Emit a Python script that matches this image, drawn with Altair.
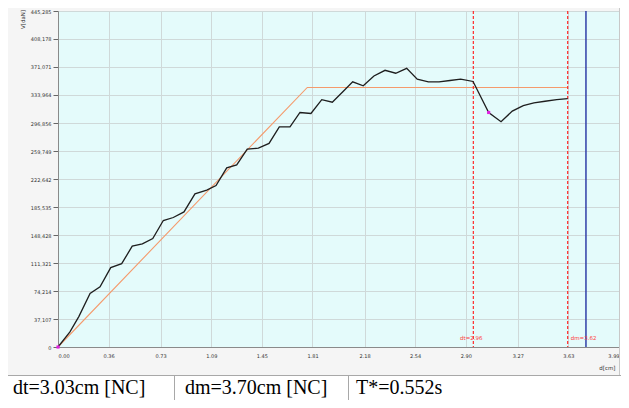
import altair as alt
import pandas as pd

# ---- data ----
d_cm = [0.000, 0.085, 0.149, 0.228, 0.299, 0.375, 0.453, 0.528, 0.600, 0.674,
        0.749, 0.820, 0.896, 0.974, 1.058, 1.124, 1.200, 1.271, 1.346, 1.425,
        1.501, 1.574, 1.650, 1.721, 1.799, 1.876, 1.951, 2.024, 2.096, 2.171,
        2.247, 2.326, 2.402, 2.480, 2.555, 2.634, 2.710, 2.788, 2.864, 2.952,
        3.063, 3.151, 3.231, 3.309, 3.385, 3.464, 3.547, 3.625]
v_dan = [0.0, 20.0, 40.6, 71.1, 79.9, 105.2, 110.4, 133.6, 136.6, 143.7,
         167.6, 171.6, 179.0, 203.0, 207.8, 213.9, 237.4, 241.4, 262.3, 263.6,
         269.8, 291.6, 291.6, 310.8, 309.5, 327.8, 324.4, 338.0, 351.4, 346.1,
         359.2, 366.7, 362.8, 369.3, 354.9, 351.4, 351.4, 353.2, 354.9, 351.9,
         310.8, 298.6, 312.6, 319.9, 323.5, 325.7, 327.8, 329.1]

bilinear_d = [0.0, 1.773, 3.625]
bilinear_v = [0.0, 344.0, 344.0]

marker_d = [0.0, 3.063]
marker_v = [0.0, 310.8]

dt_value = 2.954
dm_value = 3.625
blue_value = 3.755
dt_label = "dt=2.96"
dm_label = "dm=3.62"

x_ticks = [0.00, 0.36, 0.73, 1.09, 1.45, 1.81, 2.18, 2.54, 2.90, 3.27, 3.63, 3.99]
y_ticks = [0, 37.107, 74.214, 111.321, 148.428, 185.535, 222.642, 259.749,
           296.856, 333.964, 371.071, 408.178, 445.285]

table_texts = ["dt=3.03cm [NC]", "dm=3.70cm [NC]", "T*=0.552s"]

# ---- chart ----
W, H = 561, 336
xs = alt.Scale(domain=[0, 3.99], nice=False, zero=True)
ys = alt.Scale(domain=[0, 445.285], nice=False, zero=True)

curve_df = pd.DataFrame({"d": d_cm, "v": v_dan})
bil_df = pd.DataFrame({"d": bilinear_d, "v": bilinear_v})
mk_df = pd.DataFrame({"d": marker_d, "v": marker_v})

x_axis = alt.Axis(values=x_ticks, tickCount=30, format=".2f", grid=True, ticks=False,
                  labelOverlap=False, labelPadding=6, title="d[cm]", titleX=W - 4, titleY=20,
                  titleAlign="right", titleAnchor="end", titleBaseline="middle",
                  titleFontSize=5.5, titleFontWeight="normal", titleColor="#333")
y_axis = alt.Axis(values=y_ticks, tickCount=30, grid=True, tickSize=5, tickColor="#666",
                  labelPadding=2, labelOverlap=False,
                  labelExpr="datum.value == 0 ? '0' : replace(format(datum.value, '.3f'), '.', ',')",
                  title="V[daN]", titleX=-36, titleY=8, titleAngle=270,
                  titleAlign="center", titleBaseline="middle", titleFontSize=5.5,
                  titleFontWeight="normal", titleColor="#333")

base = alt.Chart(curve_df)

bil = alt.Chart(bil_df).mark_line(stroke="#f59a6c", strokeWidth=1.1).encode(
    x=alt.X("d:Q", scale=xs, axis=x_axis),
    y=alt.Y("v:Q", scale=ys, axis=y_axis),
)

curve = base.mark_line(stroke="#1e1e1e", strokeWidth=1.3).encode(
    x=alt.X("d:Q", scale=xs), y=alt.Y("v:Q", scale=ys)
)

markers = alt.Chart(mk_df).mark_square(size=10, color="#e020e0", opacity=1).encode(
    x=alt.X("d:Q", scale=xs), y=alt.Y("v:Q", scale=ys)
)

lines_df = pd.DataFrame({"d": [dt_value, dm_value]})
red_rules = alt.Chart(lines_df).mark_rule(
    stroke="#ff2a2a", strokeDash=[3, 2], strokeWidth=1.2, opacity=1
).encode(x=alt.X("d:Q", scale=xs))
blue_rule = alt.Chart(pd.DataFrame({"d": [blue_value]})).mark_rule(
    stroke="#2f3fa8", strokeWidth=1.5, opacity=1
).encode(x=alt.X("d:Q", scale=xs))

dt_text = alt.Chart(pd.DataFrame({"d": [dt_value], "t": [dt_label]})).mark_text(
    color="#ff3a3a", fontSize=5.5, align="center", baseline="middle", dx=-2, font="DejaVu Sans"
).encode(x=alt.X("d:Q", scale=xs), y=alt.value(327), text="t:N")
dm_text = alt.Chart(pd.DataFrame({"d": [dm_value], "t": [dm_label]})).mark_text(
    color="#ff3a3a", fontSize=5.5, align="left", baseline="middle", dx=3, font="DejaVu Sans"
).encode(x=alt.X("d:Q", scale=xs), y=alt.value(327), text="t:N")

one = pd.DataFrame({"k": [0]})
# white strip right of the chart panel
right_strip = alt.Chart(one).mark_rect(color="white").encode(
    x=alt.value(W + 0.5), x2=alt.value(W + 12), y=alt.value(-20), y2=alt.value(365)
)
panel_edge = alt.Chart(one).mark_rule(color="#c8c8c8").encode(
    x=alt.value(W + 0.5), y=alt.value(-20), y2=alt.value(364)
)
# table area below the plot
table_bg = alt.Chart(one).mark_rect(color="white", stroke="#a8a8a8", strokeWidth=1).encode(
    x=alt.value(-52), x2=alt.value(W + 7.5), y=alt.value(364.5), y2=alt.value(405)
)
div1 = alt.Chart(one).mark_rule(color="#a8a8a8").encode(
    x=alt.value(116.5), y=alt.value(364.5), y2=alt.value(402)
)
div2 = alt.Chart(one).mark_rule(color="#a8a8a8").encode(
    x=alt.value(290.5), y=alt.value(364.5), y2=alt.value(402)
)
text_x = [-45, 127, 298]
cells = []
for t, px in zip(table_texts, text_x):
    cells.append(
        alt.Chart(pd.DataFrame({"t": [t]})).mark_text(
            font="'Liberation Serif', 'Times New Roman', 'DejaVu Serif', serif",
            fontSize=20, color="black", align="left", baseline="alphabetic"
        ).encode(x=alt.value(px), y=alt.value(383), text="t:N")
    )

chart = alt.layer(
    bil, red_rules, blue_rule, curve, markers, dt_text, dm_text,
    right_strip, panel_edge, table_bg, div1, div2, *cells
).properties(
    width=W, height=H,
    autosize=alt.AutoSizeParams(type="none"),
    padding={"left": 50, "top": 3, "right": 2, "bottom": 53},
    background="#f5f5f5",
).configure_view(
    fill="#e4fbfb",
    stroke=None,
).configure_axis(
    gridColor="#cfd9d9", gridWidth=1, domainColor="#8a8a8a", domainWidth=1,
    labelFont="DejaVu Sans", labelFontSize=5, labelColor="#333",
    titleFont="DejaVu Sans",
)

chart.save("out.html", embed_options={"renderer": "svg", "actions": False})
